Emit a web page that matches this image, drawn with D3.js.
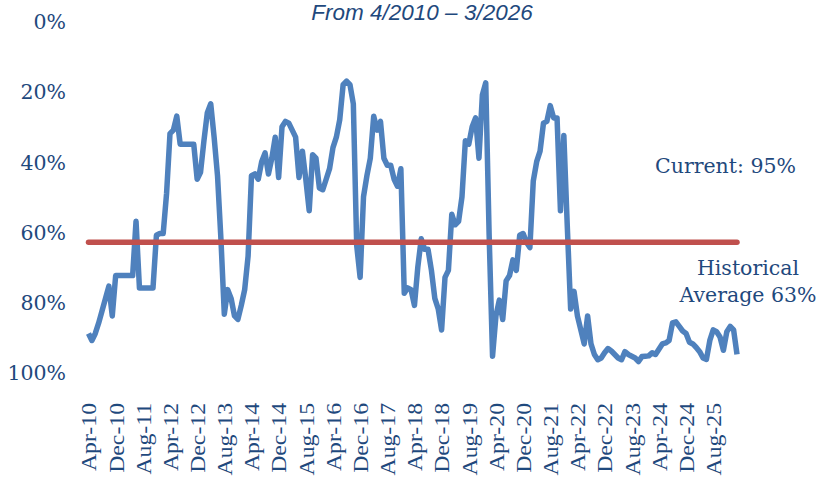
<html>
<head>
<script src="https://cdn.jsdelivr.net/npm/d3@7"></script>
<style>
  body { margin: 0; background: #fff; }
</style>
</head>
<body>
<svg width="818" height="478"></svg>
<script>

// monthly values, Apr-2010 .. Mar-2026 (percent, axis is inverted)
var values = [
  89, 91, 89, 86, 82.5, 79, 75.5, 84, 72.5, 72.5, 72.5, 72.5, 72.5, 72.5, 57, 76,
  76, 76, 76, 76, 61, 60.5, 60.5, 49, 32, 31, 27, 35, 35, 35, 35, 35,
  45, 43, 34, 26, 23.5, 33, 44, 62, 83.5, 76.5, 79, 84, 85, 81, 76.5, 67,
  44, 43.5, 45, 40, 37.5, 43.5, 39, 33, 44.5, 30, 28.5, 29, 31, 33, 44.5, 37,
  45, 54, 38, 39, 47.5, 48, 45, 42, 36, 33, 28, 18, 17, 18, 23.5, 64,
  73, 50, 44, 39, 27, 31, 28.5, 39, 41, 41, 45, 47, 42, 77.5, 76, 76.5,
  81, 70, 62, 65, 65, 71, 79, 82, 88, 73, 71, 55, 58, 57, 50, 34,
  35, 30, 27.5, 39, 21, 17.5, 61, 95.5, 84, 79.5, 85, 74, 72.5, 68, 71, 61,
  60.5, 63, 64.5, 45.5, 40, 37, 29, 28.5, 24, 27.5, 27.5, 54, 32.5, 58, 82, 77,
  84, 88, 92, 84, 92, 95, 96.5, 96, 94.5, 93.3, 94, 95, 96, 96.5, 94.2, 95,
  95.5, 96, 97, 95.6, 95.5, 95.4, 94.5, 95, 93.5, 92, 91.7, 91, 86, 85.7, 87, 88.3,
  89, 91.5, 92, 93, 94.2, 96, 96.4, 91, 88, 88.5, 90, 93.8, 88.5, 87, 88, 95
];

var historicalAvg = 63;
var current = 95;

var tickLabels = ["Apr-10","Dec-10","Aug-11","Apr-12","Dec-12","Aug-13","Apr-14","Dec-14",
  "Aug-15","Apr-16","Dec-16","Aug-17","Apr-18","Dec-18","Aug-19","Apr-20","Dec-20",
  "Aug-21","Apr-22","Dec-22","Aug-23","Apr-24","Dec-24","Aug-25"];

var yTicks = [0, 20, 40, 60, 80, 100];

var fmt = d3.timeFormat("%b-%y");
var months = d3.timeMonth.range(new Date(2010, 3, 1), new Date(2026, 3, 1)).map(fmt);

var svg = d3.select("svg");
var textColor = "#1F497D";

var x = d3.scalePoint().domain(months).range([88.5, 737]);
var y = d3.scaleLinear().domain([0, 100]).range([21.5, 372]);

// title
svg.append("text")
  .attr("x", 422)
  .attr("y", 20)
  .attr("text-anchor", "middle")
  .attr("font-family", "Liberation Sans")
  .attr("font-style", "italic")
  .attr("font-size", "22.5px")
  .attr("fill", textColor)
  .text("From 4/2010 \u2013 3/2026");

// y axis
var yAxis = svg.append("g")
  .attr("transform", "translate(66,0)")
  .call(d3.axisLeft(y).tickValues(yTicks).tickFormat(function(d) { return d + "%"; }).tickSize(0).tickPadding(0));
yAxis.select(".domain").remove();
yAxis.selectAll("text")
  .attr("font-family", "DejaVu Serif")
  .attr("font-size", "20.5px")
  .attr("fill", textColor)
  .attr("dy", "0.36em");

// x axis
var xAxis = svg.append("g")
  .attr("transform", "translate(0,403)")
  .call(d3.axisBottom(x).tickValues(tickLabels).tickSize(0));
xAxis.select(".domain").remove();
xAxis.selectAll("text")
  .attr("font-family", "Liberation Serif")
  .attr("font-size", "21px")
  .attr("fill", textColor)
  .attr("text-anchor", "end")
  .attr("x", 0)
  .attr("y", 0)
  .attr("dy", "0.35em")
  .attr("transform", "rotate(-90) scale(1.13,1)");

// the series
var line = d3.line()
  .x(function(d, i) { return x(months[i]); })
  .y(function(d) { return y(d); });

svg.append("path")
  .datum(values)
  .attr("fill", "none")
  .attr("stroke", "#4F81BD")
  .attr("stroke-width", 5.5)
  .attr("stroke-linejoin", "round")
  .attr("d", line);

// historical average
svg.append("line")
  .attr("x1", x(months[0]))
  .attr("x2", x(months[months.length - 1]))
  .attr("y1", y(historicalAvg))
  .attr("y2", y(historicalAvg))
  .attr("stroke", "#C0504D")
  .attr("stroke-width", 5.5)
  .attr("stroke-linecap", "round");

// annotations
svg.append("text")
  .attr("x", 655)
  .attr("y", 173)
  .attr("font-family", "DejaVu Serif")
  .attr("font-size", "20.5px")
  .attr("fill", textColor)
  .text("Current: " + current + "%");

var avgLabel = svg.append("text")
  .attr("text-anchor", "middle")
  .attr("font-family", "DejaVu Serif")
  .attr("font-size", "20.5px")
  .attr("fill", textColor);
avgLabel.append("tspan").attr("x", 748).attr("y", 275).text("Historical");
avgLabel.append("tspan").attr("x", 748).attr("y", 302).text("Average " + historicalAvg + "%");

</script>
</body>
</html>
